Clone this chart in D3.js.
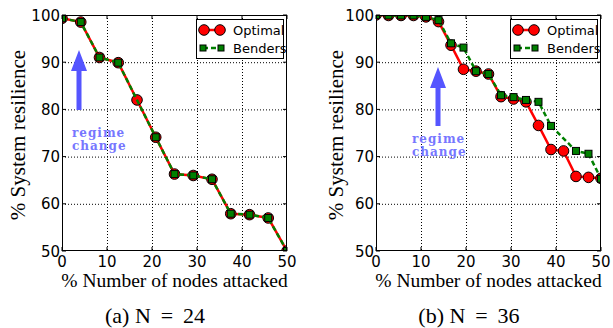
<!DOCTYPE html>
<html>
<head>
<meta charset="utf-8">
<script src="https://cdn.jsdelivr.net/npm/d3@7"></script>
<style>
  body { margin: 0; background: #fff; }
  svg { display: block; }
  .tick-label { font-family: "DejaVu Sans", sans-serif; font-size: 15px; fill: #000; }
  .serif { font-family: "Liberation Serif", "DejaVu Serif", serif; fill: #000; }
  .note { font-family: "DejaVu Serif", serif; font-size: 12px; font-weight: bold; fill: #7777ff; letter-spacing: 1px; }
  .legend text { font-family: "DejaVu Sans", sans-serif; font-size: 13px; }
</style>
</head>
<body>
<div id="chart"></div>
<script>
// DATA
const xTicks = [0, 10, 20, 30, 40, 50]
const yTicks = [50, 60, 70, 80, 90, 100]

// N = 24 : attacked share k/24
const xN24 = [0, 4.17, 8.33, 12.5, 16.67, 20.83, 25, 29.17, 33.33, 37.5, 41.67, 45.83, 50]
const optimalN24 = [99.3, 98.5, 91.0, 89.9, 82.0, 74.1, 66.3, 66.0, 65.2, 57.9, 57.7, 57.0, 50.0]
const bendersXN24 = [0, 4.17, 8.33, 12.5, 20.83, 25, 29.17, 33.33, 37.5, 41.67, 45.83, 50]
const bendersN24 = [99.3, 98.5, 91.0, 89.9, 74.1, 66.3, 66.0, 65.2, 57.9, 57.7, 57.0, 50.0]

// N = 36 : attacked share k/36
const xN36 = [0, 2.78, 5.56, 8.33, 11.11, 13.89, 16.67, 19.44, 22.22, 25, 27.78, 30.56, 33.33, 36.11, 38.89, 41.67, 44.44, 47.22, 50]
const optimalN36 = [100, 99.9, 99.9, 99.9, 99.6, 98.6, 93.6, 88.5, 88.1, 87.5, 82.7, 82.2, 81.6, 76.6, 71.5, 71.2, 65.8, 65.6, 65.4]
const bendersXN36 = [0, 2.78, 5.56, 8.33, 11.11, 13.89, 16.67, 19.44, 22.22, 25, 27.78, 30.56, 33.33, 36.11, 38.89, 44.44, 47.22, 50]
const bendersN36 = [100, 99.9, 99.9, 99.9, 99.6, 98.9, 94.0, 93.1, 88.1, 87.5, 83.0, 82.6, 82.0, 81.6, 76.5, 71.2, 70.6, 65.3]

const panels = [
  { id: 'a', caption: '(a) N \u2009=\u2009 24', capX: 155, left: 62, ylab: 37, optX: xN24, opt: optimalN24, bX: bendersXN24, b: bendersN24,
    arrow: { x: 79, y0: 110, y1: 50 }, note: { x: 72, y: 137 } },
  { id: 'b', caption: '(b) N \u2009=\u2009 36', capX: 469, left: 376, ylab: 33, optX: xN36, opt: optimalN36, bX: bendersXN36, b: bendersN36,
    arrow: { x: 438, y0: 126, y1: 67 }, note: { x: 412, y: 143 } },
]

// SIZES
const W = 613, H = 328
const plotW = 225, plotTop = 15, plotH = 236
const markerR = 5.3

const svg = d3.select('#chart').append('svg')
  .attr('width', W).attr('height', H)

const defs = svg.append('defs')

panels.forEach(p => {
  const x = d3.scaleLinear().domain([0, 50]).range([p.left, p.left + plotW])
  const y = d3.scaleLinear().domain([50, 100]).range([plotTop + plotH, plotTop])
  const g = svg.append('g')

  defs.append('clipPath').attr('id', `clip-${p.id}`)
    .append('rect')
    .attr('x', p.left).attr('y', plotTop).attr('width', plotW).attr('height', plotH)

  // gridlines
  g.selectAll('line.gx').data(xTicks.slice(1, -1)).join('line')
    .attr('x1', d => x(d) + 0.5).attr('x2', d => x(d) + 0.5)
    .attr('y1', plotTop).attr('y2', plotTop + plotH)
    .attr('stroke', '#000').attr('stroke-width', 1).attr('stroke-dasharray', '1,2')
  g.selectAll('line.gy').data(yTicks.slice(1, -1)).join('line')
    .attr('y1', d => y(d) + 0.5).attr('y2', d => y(d) + 0.5)
    .attr('x1', p.left).attr('x2', p.left + plotW)
    .attr('stroke', '#000').attr('stroke-width', 1).attr('stroke-dasharray', '1,2')

  // inward ticks
  const tl = 4
  xTicks.forEach(t => {
    g.append('line').attr('x1', x(t)).attr('x2', x(t)).attr('y1', plotTop + plotH).attr('y2', plotTop + plotH - tl).attr('stroke', '#000')
    g.append('line').attr('x1', x(t)).attr('x2', x(t)).attr('y1', plotTop).attr('y2', plotTop + tl).attr('stroke', '#000')
  })
  yTicks.forEach(t => {
    g.append('line').attr('y1', y(t)).attr('y2', y(t)).attr('x1', p.left).attr('x2', p.left + tl).attr('stroke', '#000')
    g.append('line').attr('y1', y(t)).attr('y2', y(t)).attr('x1', p.left + plotW).attr('x2', p.left + plotW - tl).attr('stroke', '#000')
  })

  // tick labels
  g.selectAll('text.xt').data(xTicks).join('text')
    .attr('class', 'tick-label')
    .attr('x', d => x(d)).attr('y', plotTop + plotH + 16)
    .attr('text-anchor', 'middle')
    .text(d => d)
  g.selectAll('text.yt').data(yTicks).join('text')
    .attr('class', 'tick-label')
    .attr('x', p.left - 2).attr('y', d => y(d) + 5.5)
    .attr('text-anchor', 'end')
    .text(d => d)

  // axis names
  g.append('text').attr('class', 'serif')
    .attr('x', p.left + plotW / 2).attr('y', plotTop + plotH + 36)
    .attr('text-anchor', 'middle').style('font-size', '19.5px')
    .text('% Number of nodes attacked')
  g.append('text').attr('class', 'serif')
    .attr('transform', `translate(${p.left - p.ylab},${plotTop + plotH / 2 + 2}) rotate(-90)`)
    .attr('text-anchor', 'middle').style('font-size', '21px')
    .text('% System resilience')
  g.append('text').attr('class', 'serif')
    .attr('x', p.capX).attr('y', 323)
    .attr('text-anchor', 'middle').style('font-size', '22px')
    .text(p.caption)

  // regime change annotation
  const a = p.arrow
  g.append('path')
    .attr('d', `M${a.x - 2.5},${a.y0} L${a.x - 2.5},${a.y1 + 21} L${a.x - 8},${a.y1 + 21} L${a.x},${a.y1} L${a.x + 8},${a.y1 + 21} L${a.x + 2.5},${a.y1 + 21} L${a.x + 2.5},${a.y0} Z`)
    .attr('fill', '#5555ff')
  g.append('text').attr('class', 'note')
    .attr('x', p.note.x).attr('y', p.note.y).text('regime')
  g.append('text').attr('class', 'note')
    .attr('x', p.note.x).attr('y', p.note.y + 13).text('change')

  // series
  const plot = g.append('g').attr('clip-path', `url(#clip-${p.id})`)
  const optPts = p.optX.map((v, i) => [v, p.opt[i]])
  const bPts = p.bX.map((v, i) => [v, p.b[i]])
  const line = d3.line().x(d => x(d[0])).y(d => y(d[1]))

  plot.append('path').datum(optPts).attr('d', line)
    .attr('fill', 'none').attr('stroke', '#ff0000').attr('stroke-width', 2.5)
  plot.selectAll('circle').data(optPts).join('circle')
    .attr('cx', d => x(d[0])).attr('cy', d => y(d[1])).attr('r', markerR)
    .attr('fill', '#ff0000').attr('stroke', '#000').attr('stroke-width', 1)

  plot.append('path').datum(bPts).attr('d', line)
    .attr('fill', 'none').attr('stroke', '#008000').attr('stroke-width', 2.5)
    .attr('stroke-dasharray', '5,3')
  plot.selectAll('rect.bm').data(bPts).join('rect')
    .attr('class', 'bm')
    .attr('x', d => x(d[0]) - 3.5).attr('y', d => y(d[1]) - 3.5)
    .attr('width', 7).attr('height', 7)
    .attr('fill', '#008000').attr('stroke', '#000').attr('stroke-width', 1)

  // frame
  g.append('rect').attr('x', p.left + 0.5).attr('y', plotTop + 0.5)
    .attr('width', plotW - 1).attr('height', plotH - 1)
    .attr('fill', 'none').attr('stroke', '#000').attr('stroke-width', 1)

  // legend
  const lx = p.left + plotW - 91, ly = plotTop + 4
  const leg = g.append('g').attr('class', 'legend')
  leg.append('rect').attr('x', lx + 0.5).attr('y', ly + 0.5).attr('width', 87).attr('height', 39)
    .attr('fill', '#fff').attr('stroke', '#000').attr('stroke-width', 1)
  leg.append('line').attr('x1', lx + 8).attr('x2', lx + 24).attr('y1', ly + 11).attr('y2', ly + 11)
    .attr('stroke', '#ff0000').attr('stroke-width', 2.5)
  ;[lx + 8, lx + 24].forEach(cx => leg.append('circle').attr('cx', cx).attr('cy', ly + 11).attr('r', markerR)
    .attr('fill', '#ff0000').attr('stroke', '#000'))
  leg.append('text').attr('x', lx + 37).attr('y', ly + 16).text('Optimal')
  leg.append('line').attr('x1', lx + 7).attr('x2', lx + 25).attr('y1', ly + 29).attr('y2', ly + 29)
    .attr('stroke', '#008000').attr('stroke-width', 2.5).attr('stroke-dasharray', '5,3')
  ;[lx + 7, lx + 25].forEach(cx => leg.append('rect').attr('x', cx - 3).attr('y', ly + 26).attr('width', 6).attr('height', 6)
    .attr('fill', '#008000').attr('stroke', '#000'))
  leg.append('text').attr('x', lx + 37).attr('y', ly + 34).text('Benders')
})
</script>
</body>
</html>
